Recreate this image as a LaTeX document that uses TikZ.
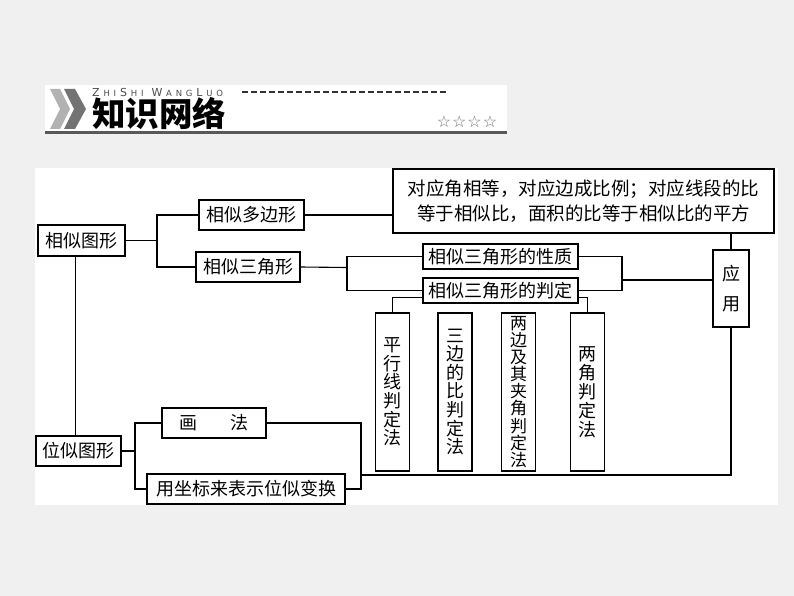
\documentclass[tikz,border=0pt]{standalone}
\usepackage{fontspec}
\setmainfont{Noto Sans CJK SC}
\newfontfamily\hdfont{DejaVu Sans}
\newfontfamily\symfont{DejaVu Sans}
\usetikzlibrary{positioning,calc}
\definecolor{slide}{HTML}{F0F0F0}
\newcommand{\smc}[1]{{\fontsize{8.5}{8.5}\selectfont #1}}
\newcommand{\gp}{\hspace{3.8pt}}
\tikzset{
  box/.style={draw,line width=1.1pt,fill=white,inner sep=0pt,align=center,font=\fontsize{18}{20}\selectfont},
  boldbox/.style={box,line width=1.7pt},
  vbox/.style={box,minimum width=34pt,minimum height=158pt,font=\fontsize{18}{18.6}\selectfont},
  wire/.style={line width=1.1pt}
}

\begin{document}
\begin{tikzpicture}[x=1pt,y=-1pt]
\useasboundingbox (0,0) rectangle (794,596);
\fill[slide] (0,0) rectangle (794,596);
% header band
\fill[white] (45,85) rectangle (507,131);
\fill[black!65] (45,131) rectangle (507,134);
\fill[black!30] (50,89) -- (60,89) -- (70,109) -- (60,129) -- (50,129) -- (60,109) -- cycle;
\fill[black!55] (64,89) -- (75,89) -- (86,109) -- (75,129) -- (64,129) -- (74,109) -- cycle;
\node[font=\hdfont\fontsize{11}{11}\selectfont,text=black!70,anchor=west,inner sep=0] (pinyin) at (92,92) {Z\gp\smc{H\gp I}\gp S\gp\smc{H\gp I}\hspace{8pt}W\gp\smc{A\gp N\gp G}\gp L\gp\smc{U\gp O}};
\node[font=\bfseries\fontsize{33.5}{34}\selectfont,anchor=west,inner sep=0] (title) at (92,114) {知识网络};
\draw[black!80,line width=1.3pt,dash pattern=on 6pt off 3pt] (242,92) -- (448,92);
\node[font=\symfont\fontsize{16}{16}\selectfont,text=black!55,inner sep=0] (stars) at (467,122) {☆\hspace{1pt}☆\hspace{1pt}☆\hspace{1pt}☆};
% panel
\fill[white] (35,168) rectangle (778,505);

% left column
\node[box,minimum width=87pt,minimum height=31pt] (xstx) at (81.5,240.5) {相似图形};
\node[box,minimum width=85pt,minimum height=30pt] (wstx) at (78.5,451) {位似图形};
\draw[wire] ([xshift=-3pt]wstx.north) -- ([xshift=-3pt]wstx.north |- xstx.south);

% similar figures
\node[boldbox,minimum width=105pt,minimum height=30pt] (xsdbx) at (251.5,215) {相似多边形};
\node[box,minimum width=104pt,minimum height=30pt] (xssjx) at (248,267) {相似三角形};
\node[box,minimum width=381pt,minimum height=64pt,font=\fontsize{18.5}{25}\selectfont] (xz) at (583.5,201) {对应角相等，对应边成比例；对应线段的比\\等于相似比，面积的比等于相似比的平方};
\node[box,minimum width=155pt,minimum height=25pt] (xingzhi) at (500.5,256.5) {相似三角形的性质};
\node[box,minimum width=155pt,minimum height=25pt] (panding) at (500.5,290.5) {相似三角形的判定};
\node[box,minimum width=36pt,minimum height=77pt,font=\fontsize{18}{30}\selectfont] (yy) at (731,288.5) {应\\用};

\node[vbox] (pxx) at (392.5,392) {平\\行\\线\\判\\定\\法};
\node[vbox,boldbox,minimum width=34pt,minimum height=158pt,font=\fontsize{18}{18.6}\selectfont] (sb) at (455,392) {三\\边\\的\\比\\判\\定\\法};
\node[vbox,font=\fontsize{17}{17.1}\selectfont] (lb) at (518.5,392) {两\\边\\及\\其\\夹\\角\\判\\定\\法};
\node[vbox,boldbox,minimum width=34pt,minimum height=158pt,font=\fontsize{18}{19}\selectfont] (lj) at (587.5,392) {两\\角\\判\\定\\法};

% homothetic figures
\node[box,minimum width=104pt,minimum height=30pt] (hf) at (214,423) {画\hspace{1.8em}法};
\node[box,minimum width=198pt,minimum height=30pt] (zb) at (246,489) {用坐标来表示位似变换};

% junctions
\coordinate (j1) at (157,240.5);
\coordinate (j2) at (347,267.5);
\coordinate (j3) at (622,280);
\coordinate (j4) at (361,475);
\coordinate (j5) at (135,451);

\draw[wire] (xstx.east) -- (j1);
\draw[wire] (xsdbx.west) -| (j1) |- (xssjx.west);
\draw[wire] (xsdbx.east) -- (xsdbx.east -| xz.west);
\draw[wire] (xssjx.east) -- (j2);
\draw[wire] (xingzhi.west) -| (j2) |- (panding.west);
\draw[wire] (xingzhi.east) -| (j3) |- (panding.east);
\draw[wire] (j3) -- (j3 -| yy.west);
\draw[wire] (yy.north) -- (yy.north |- xz.south);
\draw[wire] ([yshift=-7pt]panding.west) -| (pxx.north);
\draw[wire] ([yshift=-7pt]panding.east) -| (lj.north);
\draw[wire] (yy.south) |- (j4);
\draw[wire] (wstx.east) -- (j5);
\draw[wire] (hf.west) -| (j5) |- (zb.west);
\draw[wire] (hf.east) -| (j4) |- (zb.east);
\end{tikzpicture}
\end{document}
